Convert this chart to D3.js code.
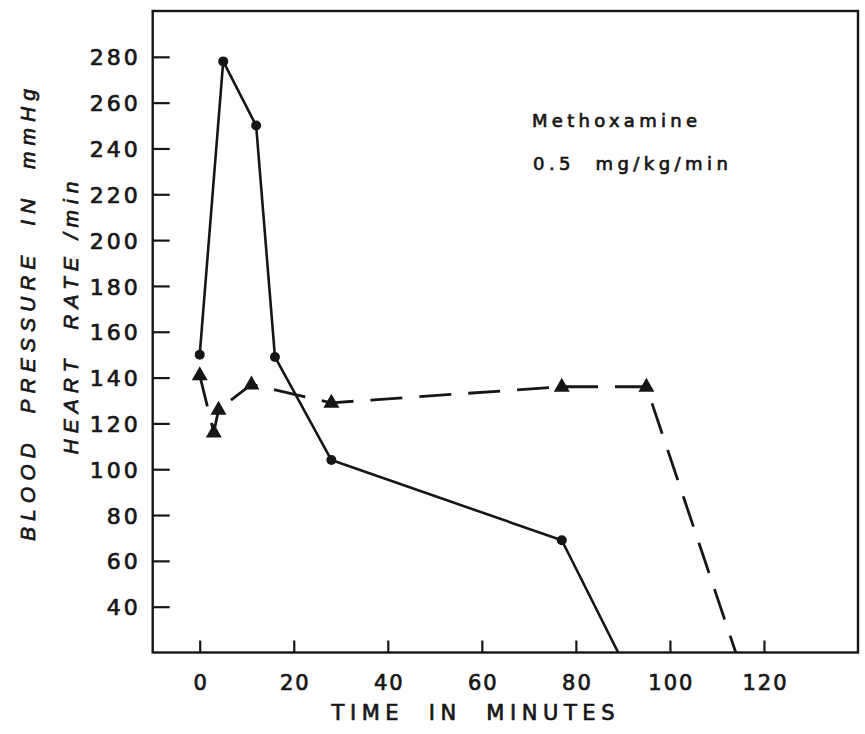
<!DOCTYPE html>
<html><head><meta charset="utf-8">
<script src="https://cdn.jsdelivr.net/npm/d3@7"></script>
<style>body{margin:0;background:#fff}svg text{white-space:pre}</style></head>
<body><svg id="c" width="865" height="734"></svg>
<script>
// ---- data ----
const bpTime  = [0, 5, 12, 16, 28, 77, 89];
const bpValue = [150, 278, 250, 149, 104, 69, 20];
const bpMarker = [1, 1, 1, 1, 1, 1, 0];
const hrTime  = [0, 3, 4, 11, 28, 77, 95, 114];
const hrValue = [141, 116, 126, 137, 129, 136, 136, 20];
const hrMarker = [1, 1, 1, 1, 1, 1, 1, 0];
const xTicks = [0, 20, 40, 60, 80, 100, 120];
const yTicks = [40, 60, 80, 100, 120, 140, 160, 180, 200, 220, 240, 260, 280];
const xTitle = "TIME  IN  MINUTES";
const yTitle1 = "BLOOD  PRESSURE  IN  mmHg";
const yTitle2 = "HEART  RATE /min";
const note1 = "Methoxamine";
const note2 = "0.5  mg/kg/min";

// ---- layout ----
const svg = d3.select("#c");
const L = 152.7, R = 858, T = 11, B = 652.5;
const x = d3.scaleLinear().domain([-10, 140]).range([L, R]);
const y = d3.scaleLinear().domain([20, 300]).range([B, T]);
const ink = "#161616";
const numFont = "'DejaVu Sans', sans-serif";
const bold = sel => sel.attr("stroke", ink).attr("stroke-width", 0.7);

svg.append("defs").append("clipPath").attr("id", "clip")
  .append("rect").attr("x", L).attr("y", T).attr("width", R - L).attr("height", B - T);

// frame
svg.append("rect").attr("x", L).attr("y", T).attr("width", R - L).attr("height", B - T)
  .attr("fill", "none").attr("stroke", ink).attr("stroke-width", 2.4);

// y axis
const ya = svg.append("g").attr("transform", `translate(${L},0)`)
  .call(d3.axisLeft(y).tickValues(yTicks).tickSize(-17).tickPadding(12).tickFormat(d3.format("d")));
ya.select(".domain").remove();
ya.selectAll(".tick line").attr("stroke", ink).attr("stroke-width", 2.2);
ya.selectAll(".tick text").attr("fill", ink).attr("font-family", numFont)
  .attr("font-size", 22).attr("letter-spacing", 3).attr("dy", "0.37em").call(bold);

// x axis
const xa = svg.append("g").attr("transform", `translate(0,${B})`)
  .call(d3.axisBottom(x).tickValues(xTicks).tickSize(-12).tickPadding(0).tickFormat(d3.format("d")));
xa.select(".domain").remove();
xa.selectAll(".tick line").attr("stroke", ink).attr("stroke-width", 2.2);
xa.selectAll(".tick text").attr("fill", ink).attr("font-family", numFont)
  .attr("font-size", 21).attr("letter-spacing", 2).attr("y", 37).attr("dy", 0).attr("dx", 1).call(bold);

// titles
svg.append("text").attr("x", 473).attr("y", 720).attr("text-anchor", "middle")
  .attr("font-family", numFont).attr("font-size", 21).attr("fill", ink)
  .attr("textLength", 283).attr("lengthAdjust", "spacing").text(xTitle).call(bold);
svg.append("text").attr("transform", "translate(35,315) rotate(-90)").attr("text-anchor", "middle")
  .attr("font-family", "'Liberation Sans', sans-serif").attr("font-style", "italic")
  .attr("font-size", 21).attr("fill", ink)
  .attr("textLength", 452).attr("lengthAdjust", "spacing").text(yTitle1).call(bold);
svg.append("text").attr("transform", "translate(78,318) rotate(-90)").attr("text-anchor", "middle")
  .attr("font-family", "'Liberation Sans', sans-serif").attr("font-style", "italic")
  .attr("font-size", 21).attr("fill", ink)
  .attr("textLength", 273).attr("lengthAdjust", "spacing").text(yTitle2).call(bold);

// annotation
svg.append("text").attr("x", 532).attr("y", 127).attr("font-family", numFont).attr("font-size", 18)
  .attr("fill", ink).attr("textLength", 165).attr("lengthAdjust", "spacing").text(note1).call(bold);
svg.append("text").attr("x", 533).attr("y", 170).attr("font-family", numFont).attr("font-size", 18)
  .attr("fill", ink).attr("textLength", 195).attr("lengthAdjust", "spacing").text(note2).call(bold);

// series
const bp = bpTime.map((t, i) => ({t, v: bpValue[i], m: bpMarker[i]}));
const hr = hrTime.map((t, i) => ({t, v: hrValue[i], m: hrMarker[i]}));
const line = d3.line().x(d => x(d.t)).y(d => y(d.v));
const plot = svg.append("g").attr("clip-path", "url(#clip)");

plot.append("path").datum(bp).attr("d", line).attr("fill", "none")
  .attr("stroke", ink).attr("stroke-width", 2.6).attr("stroke-linejoin", "round");
plot.append("path").datum(hr).attr("d", line).attr("fill", "none")
  .attr("stroke", ink).attr("stroke-width", 2.8).attr("stroke-dasharray", "32,17");

plot.selectAll("circle.bp").data(bp.filter(d => d.m)).join("circle").attr("class", "bp")
  .attr("cx", d => x(d.t)).attr("cy", d => y(d.v)).attr("r", 5).attr("fill", ink);

plot.selectAll("path.hr").data(hr.filter(d => d.m)).join("path").attr("class", "hr")
  .attr("d", d => {
    const cx = x(d.t), cy = y(d.v);
    return `M${cx},${cy - 9}L${cx + 8},${cy + 5}L${cx - 8},${cy + 5}Z`;
  })
  .attr("fill", ink);
</script></body></html>
